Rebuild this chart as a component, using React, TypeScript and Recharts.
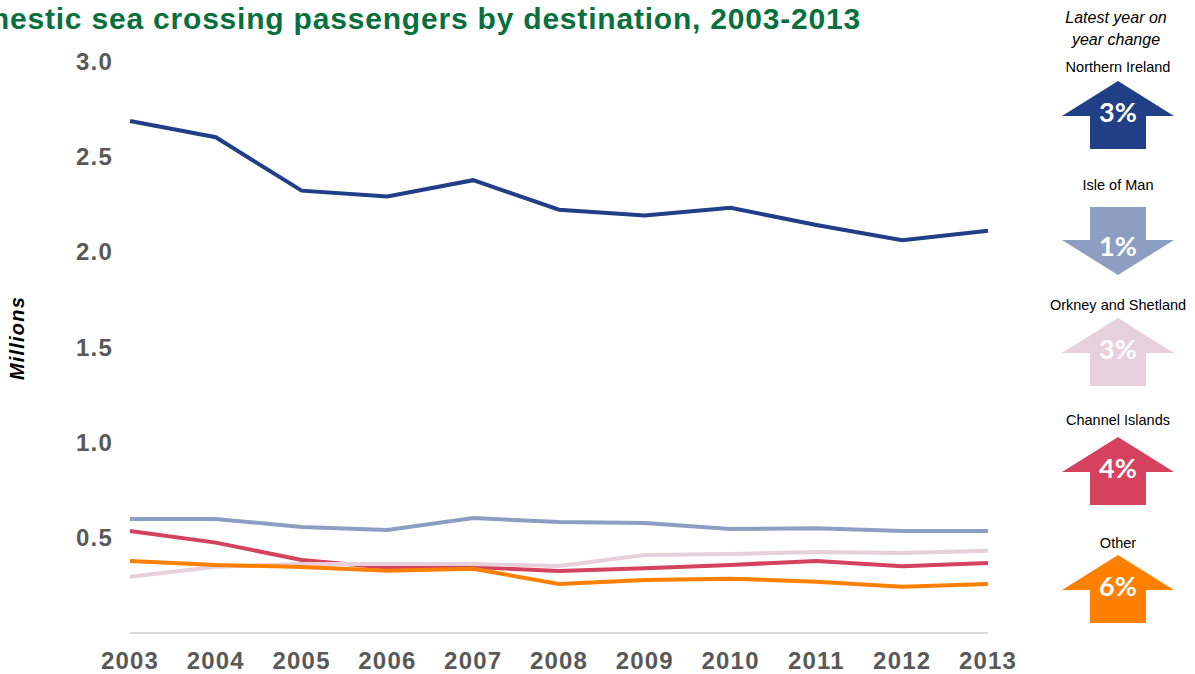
import React from 'react';
import { Line, LineChart, XAxis, YAxis } from 'recharts';

// passengers, millions
const years = ['2003', '2004', '2005', '2006', '2007', '2008', '2009', '2010', '2011', '2012', '2013'];
const northernIreland = [2.685, 2.6, 2.32, 2.29, 2.375, 2.22, 2.19, 2.23, 2.14, 2.06, 2.11];
const isleOfMan = [0.598, 0.598, 0.556, 0.54, 0.603, 0.582, 0.577, 0.545, 0.55, 0.535, 0.535];
const orkneyShetland = [0.295, 0.348, 0.362, 0.362, 0.362, 0.351, 0.409, 0.414, 0.425, 0.42, 0.432];
const channelIslands = [0.535, 0.474, 0.383, 0.342, 0.346, 0.325, 0.34, 0.357, 0.378, 0.35, 0.367];
const other = [0.378, 0.357, 0.346, 0.327, 0.337, 0.257, 0.278, 0.285, 0.269, 0.243, 0.257];

const yTicks = [0, 0.5, 1.0, 1.5, 2.0, 2.5, 3.0];

// latest year on year change (%), direction of the arrow
const changeNames = ['Northern Ireland', 'Isle of Man', 'Orkney and Shetland', 'Channel Islands', 'Other'];
const changePct = [3, 1, 3, 4, 6];
const changeUp = [true, false, true, true, true];

const colors = {
  northernIreland: '#203f86',
  isleOfMan: '#8d9ec3',
  orkneyShetland: '#e7d0dc',
  channelIslands: '#d4425e',
  other: '#ff8000',
};
const changeColors = [colors.northernIreland, colors.isleOfMan, colors.orkneyShetland, colors.channelIslands, colors.other];

const data = years.map((year, i) => ({
  year,
  northernIreland: northernIreland[i],
  isleOfMan: isleOfMan[i],
  orkneyShetland: orkneyShetland[i],
  channelIslands: channelIslands[i],
  other: other[i],
}));

// drawn bottom to top
const lineOrder: (keyof typeof colors)[] = ['isleOfMan', 'channelIslands', 'orkneyShetland', 'other', 'northernIreland'];

const tickStyle = { fill: '#595959', fontSize: 24, fontWeight: 700, fontFamily: 'Liberation Sans, Arial, sans-serif', letterSpacing: 1.2 };

//#region  //*=========== Side panel ===========
const ARROW_X = 1118;
const labelY = [67, 185, 305, 420, 543];
const arrowTop = [81, 207, 318, 437, 555];

function Arrow({ top, up, color, pct }: { top: number; up: boolean; color: string; pct: number }) {
  const half = 56;
  const shaft = 28;
  const head = 35;
  const len = 68;
  const pts = up
    ? [
        [ARROW_X, top],
        [ARROW_X + half, top + head],
        [ARROW_X + shaft, top + head],
        [ARROW_X + shaft, top + len],
        [ARROW_X - shaft, top + len],
        [ARROW_X - shaft, top + head],
        [ARROW_X - half, top + head],
      ]
    : [
        [ARROW_X - shaft, top],
        [ARROW_X + shaft, top],
        [ARROW_X + shaft, top + len - head],
        [ARROW_X + half, top + len - head],
        [ARROW_X, top + len],
        [ARROW_X - half, top + len - head],
        [ARROW_X - shaft, top + len - head],
      ];
  const textY = up ? top + 41 : top + 49;
  return (
    <g>
      <polygon points={pts.map((p) => p.join(',')).join(' ')} fill={color} />
      <text x={ARROW_X} y={textY} textAnchor='middle' fill='#ffffff' fontSize={27} fontWeight={700} fontFamily='Lato, sans-serif'>
        {pct}%
      </text>
    </g>
  );
}
//#endregion  //*======== Side panel ===========

export default function App() {
  return (
    <div style={{ position: 'absolute', left: 0, top: 0, width: 1195, height: 674, overflow: 'hidden', background: '#fff' }}>
      <LineChart width={1195} height={674} data={data} margin={{ top: 61, right: 207, bottom: 0, left: 0 }}>
        <XAxis
          dataKey='year'
          height={41}
          padding={{ left: 0, right: 0 }}
          axisLine={{ stroke: '#d9d9d9', strokeWidth: 2 }}
          tickLine={false}
          tickSize={0}
          tickMargin={19}
          tick={tickStyle}
          interval={0}
        />
        <YAxis
          type='number'
          domain={[0, 3]}
          ticks={yTicks}
          width={130}
          axisLine={false}
          tickLine={false}
          tickSize={0}
          tickMargin={17}
          tick={tickStyle}
          tickFormatter={(v: number) => (v === 0 ? '' : v.toFixed(1))}
          interval={0}
        />
        {lineOrder.map((key) => (
          <Line
            key={key}
            type='linear'
            dataKey={key}
            stroke={colors[key]}
            strokeWidth={4}
            dot={false}
            activeDot={false}
            isAnimationActive={false}
          />
        ))}
      </LineChart>

      <svg width={1195} height={674} style={{ position: 'absolute', left: 0, top: 0, pointerEvents: 'none' }}>
        {/* title runs off the left edge, as in the original */}
        <text x={861} y={29} textAnchor='end' fill='#08703f' fontSize={30} fontWeight={700} letterSpacing={0.8} fontFamily='Liberation Sans, Arial, sans-serif'>
          Domestic sea crossing passengers by destination, 2003-2013
        </text>
        <text
          transform='translate(24,338) rotate(-90)'
          textAnchor='middle'
          fill='#000'
          fontSize={20}
          fontWeight={700}
          fontStyle='italic'
          letterSpacing={1.2}
          fontFamily='Liberation Sans, Arial, sans-serif'
        >
          Millions
        </text>

        <g fontFamily='Liberation Sans, Arial, sans-serif' textAnchor='middle'>
          <text x={ARROW_X - 2} y={23} fontSize={16} fontStyle='italic' fill='#000'>Latest year on</text>
          <text x={ARROW_X - 2} y={45} fontSize={16} fontStyle='italic' fill='#000'>year change</text>
          {changeNames.map((name, i) => (
            <text key={name} x={ARROW_X} y={labelY[i] + 5} fontSize={14.5} fill='#000'>
              {name}
            </text>
          ))}
        </g>
        {changeNames.map((name, i) => (
          <Arrow key={name} top={arrowTop[i]} up={changeUp[i]} color={changeColors[i]} pct={changePct[i]} />
        ))}
      </svg>
    </div>
  );
}
